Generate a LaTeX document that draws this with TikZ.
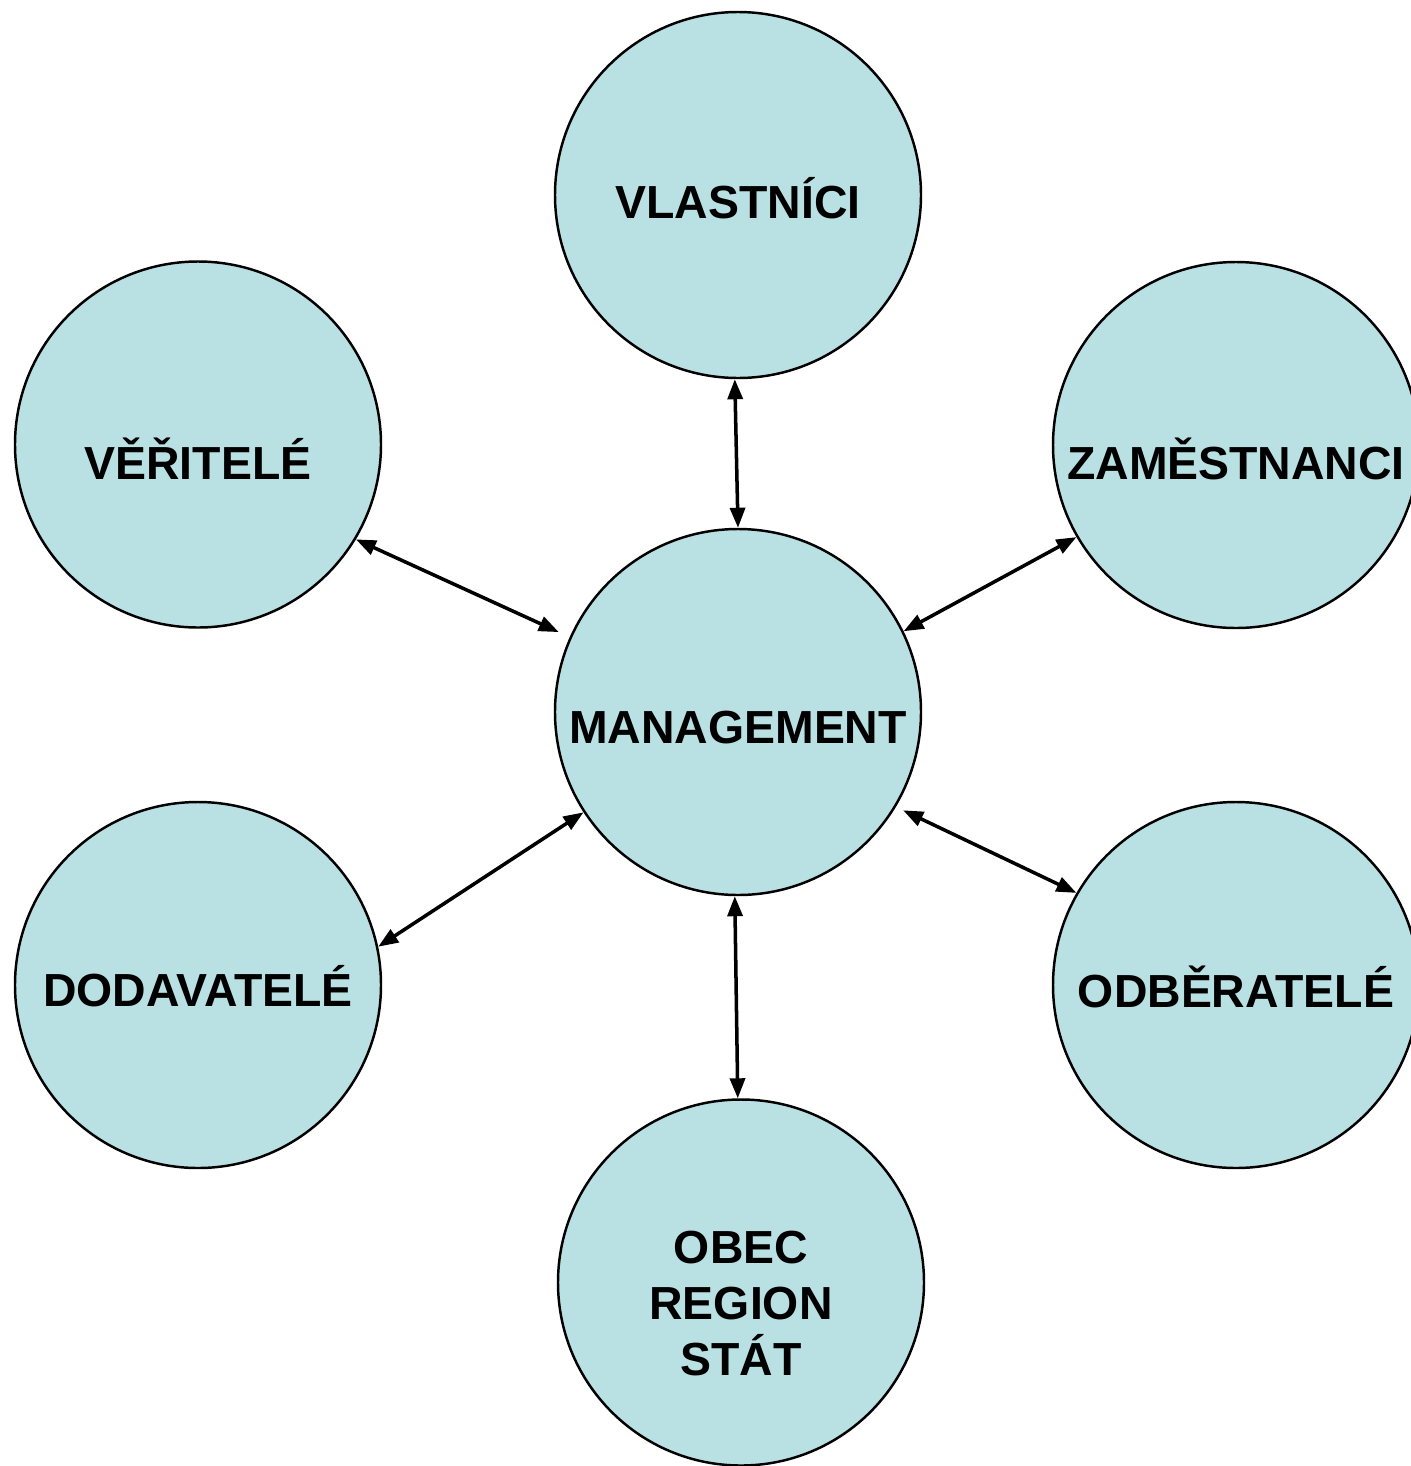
\documentclass[tikz,border=0pt]{standalone}
\usepackage{fontspec}
\setmainfont{Liberation Sans}
\usepackage{tikz}
\usetikzlibrary{arrows.meta}
\definecolor{partyfill}{RGB}{185,224,227}

\begin{document}
\begin{tikzpicture}[<->,>={Triangle[length=0.2cm,width=0.15cm]}
	,line width=1pt
	,font=\fontsize{13.2pt}{15.8pt}\selectfont\bfseries]
  \tikzstyle{party}
  =[circle,draw,fill=partyfill,line width=0.7pt,inner sep=0pt
   ,minimum size=3.66cm,text depth=0pt,align=center]
  \useasboundingbox (0,0) rectangle (14.10,-14.66);

  % middle
  \node[party,text height=0.63cm](man) at (7.38,-7.12) {MANAGEMENT};
  % top row
  \node[party,text height=0.47cm](vla) at (7.38,-1.95) {VLASTNÍCI};
  \node[party,text height=0.69cm](ver) at (1.98,-4.445) {VĚŘITELÉ};
  \node[party,text height=0.68cm](zam) at (12.36,-4.45) {ZAMĚSTNANCI};
  % bottom row
  \node[party,text height=0.43cm](dod) at (1.98,-9.85) {DODAVATELÉ};
  \node[party,text height=0.44cm](odb) at (12.36,-9.85) {ODBĚRATELÉ};
  \node[party,text height=1.85cm](obe) at (7.41,-12.825) {OBEC\\REGION\\STÁT};

  % arrows, top then clockwise
  \path (vla.-91)  edge (man.90);
  \path (zam.210)  edge (man.26);
  \path (odb.150)  edge [shorten >=0.08cm] (man.-31);
  \path (obe.91)   edge (man.-91);
  \path (dod.12)   edge (man.213);
  \path (ver.-31)  edge [shorten >=0.12cm] (man.156);
\end{tikzpicture}
\end{document}
